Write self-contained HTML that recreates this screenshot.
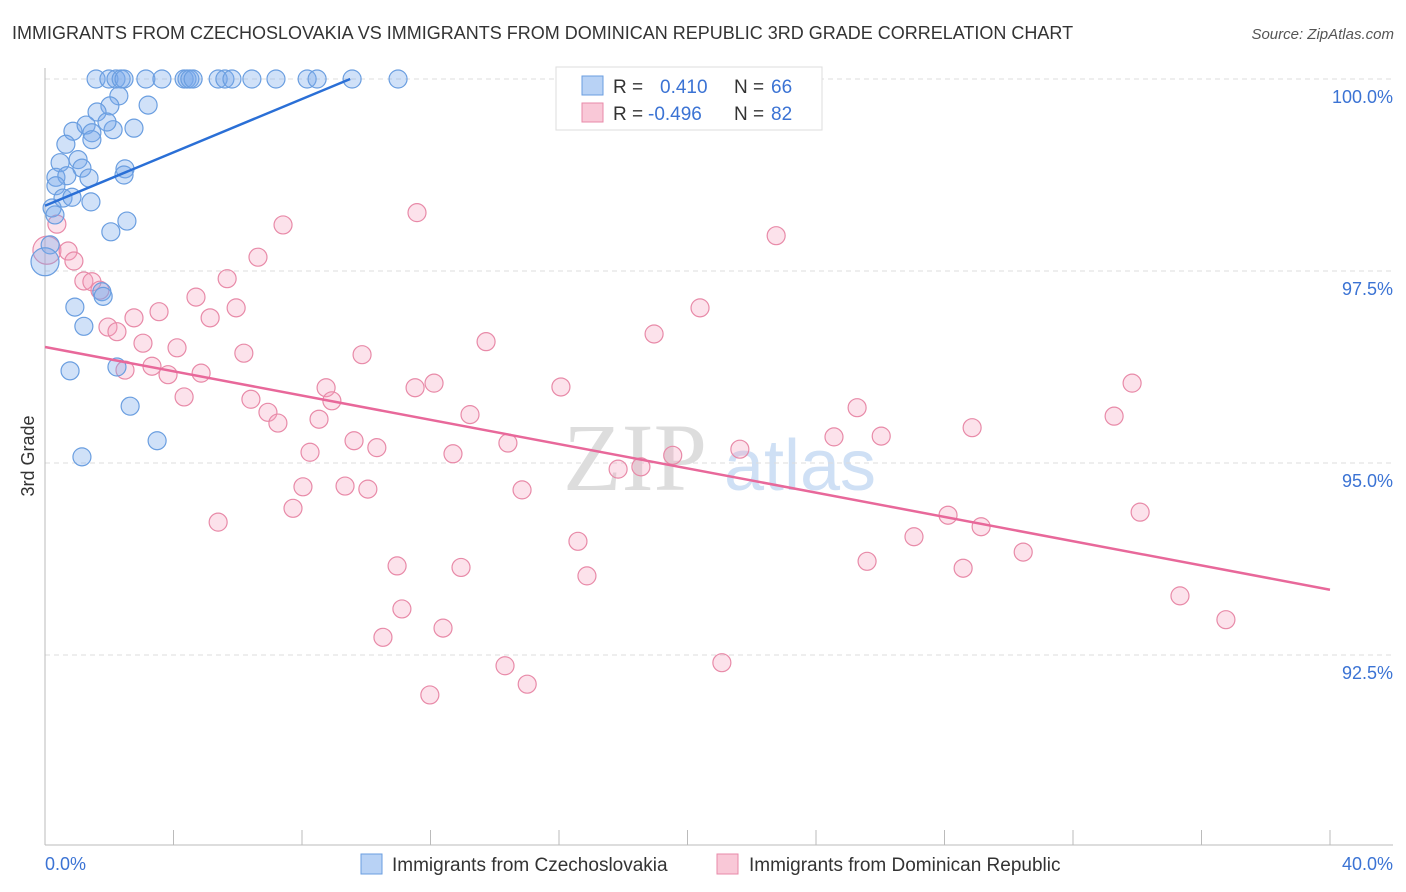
<!DOCTYPE html>
<html><head><meta charset="utf-8"><style>
body{margin:0;background:#fff;font-family:"Liberation Sans",sans-serif}
svg{display:block}
</style></head><body>
<svg id="chart" width="1406" height="892" xmlns="http://www.w3.org/2000/svg">
<text x="12" y="39" font-size="18" fill="#333">IMMIGRANTS FROM CZECHOSLOVAKIA VS IMMIGRANTS FROM DOMINICAN REPUBLIC 3RD GRADE CORRELATION CHART</text>
<text x="1394" y="39" font-size="15" fill="#555" font-style="italic" text-anchor="end">Source: ZipAtlas.com</text>
<text x="34" y="456" font-size="18" fill="#333" transform="rotate(-90 34 456)" text-anchor="middle">3rd Grade</text>
<g><text x="635" y="490" font-size="96" font-family="Liberation Serif,serif" fill="#ddd" text-anchor="middle">ZIP</text><text x="800" y="490" font-size="72" fill="#cfe0f5" text-anchor="middle">atlas</text></g>
<g id="grid"></g><g id="axes"></g><g id="pts"></g><g id="trend"></g>
<g>
<rect x="556" y="67" width="266" height="63" fill="#fff" stroke="#ddd"/>
<rect x="582" y="76" width="21" height="19" fill="#b8d2f5" stroke="#6a9ee0"/>
<rect x="582" y="103" width="21" height="19" fill="#f9c8d7" stroke="#e88aa8"/>
<text x="613" y="93" font-size="19" fill="#333">R = </text><text x="660" y="93" font-size="19" fill="#3b73d4">0.410</text>
<text x="734" y="93" font-size="19" fill="#333">N = </text><text x="771" y="93" font-size="19" fill="#3b73d4">66</text>
<text x="613" y="120" font-size="19" fill="#333">R = </text><text x="648" y="120" font-size="19" fill="#3b73d4">-0.496</text>
<text x="734" y="120" font-size="19" fill="#333">N = </text><text x="771" y="120" font-size="19" fill="#3b73d4">82</text>
</g>
<g>
<rect x="361" y="854" width="21" height="20" fill="#b8d2f5" stroke="#6a9ee0"/>
<text x="392" y="871" font-size="19" fill="#333">Immigrants from Czechoslovakia</text>
<rect x="717" y="854" width="21" height="20" fill="#f9c8d7" stroke="#e88aa8"/>
<text x="749" y="871" font-size="19" fill="#333">Immigrants from Dominican Republic</text>
</g>
</svg>
<script>
const yTicks=[100,97.5,95,92.5];
const yTickLabels=["100.0%","97.5%","95.0%","92.5%"];
const xTickLabels=["0.0%","40.0%"];
const blueX=[1.59,1.99,2.21,2.37,2.46,3.14,3.64,4.33,4.42,4.51,4.61,5.39,5.60,5.82,6.44,7.19,8.16,8.47,9.56,10.99,18.15,2.30,2.02,3.21,1.62,2.77,2.12,0.87,1.28,1.46,1.93,0.65,1.46,1.03,0.47,1.15,2.49,2.46,0.34,0.68,1.37,0.34,0.56,0.84,1.43,0.22,0.31,2.55,2.05,0.16,1.77,1.81,0.93,1.21,0,0.78,2.24,2.65,3.49,1.15];
const blueY=[100,100,100,100,100,100,100,100,100,100,100,100,100,100,100,100,100,100,100,100,100,99.78,99.65,99.66,99.57,99.36,99.34,99.32,99.40,99.30,99.44,99.15,99.21,98.95,98.91,98.84,98.83,98.75,98.72,98.74,98.71,98.61,98.45,98.46,98.40,98.32,98.23,98.15,98.01,97.84,97.23,97.17,97.03,96.78,97.62,96.20,96.25,95.74,95.29,95.08];
const pinkX=[0.37,0.06,0.72,0.90,1.21,1.46,1.71,1.96,2.24,2.77,3.55,3.05,4.11,3.33,3.83,2.49,4.86,4.33,4.70,5.67,5.14,5.95,6.19,6.63,7.41,6.41,6.94,7.25,5.39,8.25,8.03,7.72,8.53,8.75,8.93,9.34,9.62,9.87,10.05,10.33,10.96,11.11,10.52,11.58,11.52,12.11,12.70,12.39,11.98,12.95,13.23,13.73,14.32,14.41,14.85,15.01,16.06,16.59,16.87,17.84,18.55,18.96,19.54,20.39,21.07,21.63,22.76,24.56,25.28,25.59,26.03,27.05,28.11,28.58,28.86,29.14,30.45,33.28,33.84,34.09,35.33,36.76];
const pinkY=[98.11,97.77,97.76,97.63,97.37,97.36,97.25,96.77,96.71,96.89,96.97,96.56,96.50,96.26,96.15,96.21,96.17,95.86,97.16,97.40,96.89,97.02,96.43,97.68,98.10,95.83,95.66,95.52,94.23,95.14,94.69,94.41,95.57,95.98,95.81,94.70,95.29,96.41,94.66,95.20,93.66,93.10,92.73,98.26,95.98,96.04,95.12,92.85,91.98,93.64,95.63,96.58,92.36,95.26,94.65,92.12,95.99,93.98,93.53,94.92,94.95,96.68,95.10,97.02,92.40,95.18,97.96,95.34,95.72,93.72,95.35,94.04,94.32,93.63,95.46,94.17,93.84,95.61,96.04,94.36,93.27,92.96];
const blueTrendX=[0,9.5],blueTrendY=[98.35,100];
const pinkTrendX=[0,40],pinkTrendY=[96.51,93.35];
const NS="http://www.w3.org/2000/svg";
const xS=v=>45+v/40*1285, yS=v=>79+(100-v)/2.5*192;
function mk(p,t,a){const e=document.createElementNS(NS,t);for(const k in a)e.setAttribute(k,a[k]);document.getElementById(p).appendChild(e);return e;}
yTicks.forEach((t,i)=>{
 const l=mk('grid','line',{x1:45,x2:1393,y1:yS(t),y2:yS(t),stroke:'#ddd','stroke-dasharray':'5,4'});
 
 
 const tx=mk('grid','text',{x:1393,y:yS(t)+24,'font-size':18,fill:'#3b73d4','text-anchor':'end'});
 tx.textContent=yTickLabels[i];
 
 
});
const ax=mk('axes','line',{x1:45,x2:45,y1:68,y2:845,stroke:'#bbb'});


const bx=mk('axes','line',{x1:45,x2:1393,y1:845,y2:845,stroke:'#bbb'});


for(let i=0;i<=10;i++){const t=mk('axes','line',{x1:xS(i*4),x2:xS(i*4),y1:830,y2:845,stroke:'#bbb'});
 
 }
[[0,'start',45],[40,'end',1393]].forEach((d,i)=>{const t=mk('axes','text',{x:d[2],y:870,'font-size':18,fill:'#3b73d4','text-anchor':d[1]});t.textContent=xTickLabels[i];
 
 });
function pts(X,Y,fill,stroke,name){X.forEach((x,i)=>{const big=(x<0.1);const c=mk('pts','circle',{cx:xS(x),cy:yS(Y[i]),r:big?14:9,fill:fill,stroke:stroke,'stroke-width':1.2});
 
 });}
pts(pinkX,pinkY,'rgba(244,160,188,0.3)','#e88aa8','dominican-point');
pts(blueX,blueY,'rgba(120,170,235,0.35)','#6a9ee0','czechoslovakia-point');
const bl=mk('trend','line',{x1:xS(blueTrendX[0]),y1:yS(blueTrendY[0]),x2:xS(blueTrendX[1]),y2:yS(blueTrendY[1]),stroke:'#2a6fd6','stroke-width':2.5});


const pl=mk('trend','line',{x1:xS(pinkTrendX[0]),y1:yS(pinkTrendY[0]),x2:xS(pinkTrendX[1]),y2:yS(pinkTrendY[1]),stroke:'#e8689a','stroke-width':2.5});


</script>
</body></html>
